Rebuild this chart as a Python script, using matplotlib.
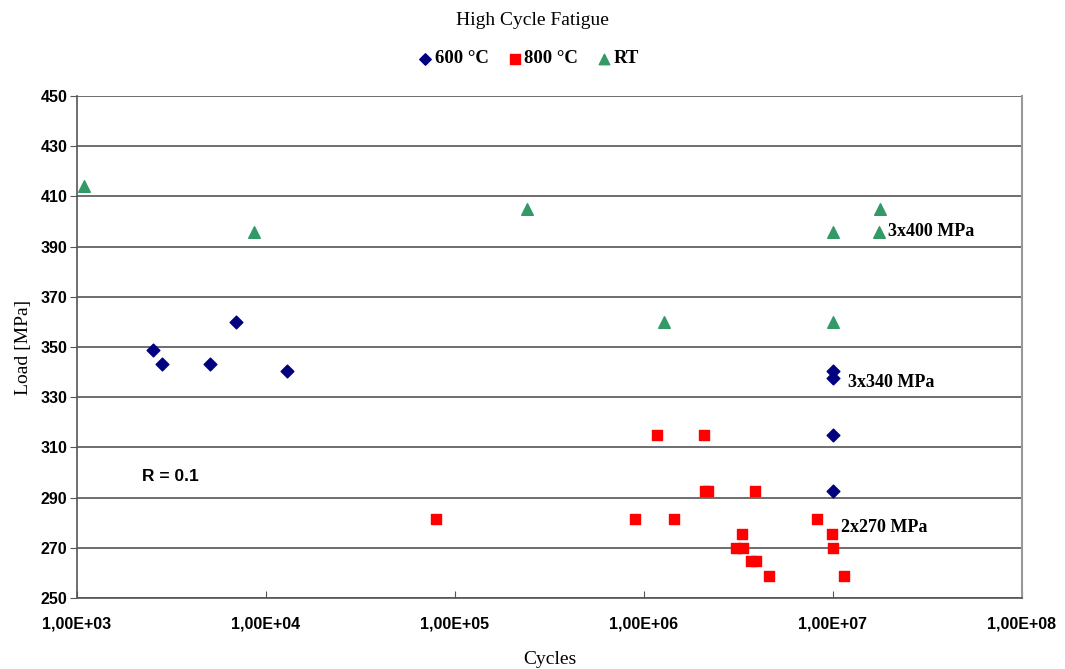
import numpy as np
import matplotlib.pyplot as plt
from matplotlib.ticker import FixedLocator, FuncFormatter

# 600 degC
c600 = [2520, 2820, 5060, 6930, 12900, 1.0e7, 1.0e7, 1.0e7, 1.0e7]
s600 = [348.8, 343.2, 343.2, 360, 340.4, 340.4, 337.6, 315, 292.5]

# 800 degC
c800 = [7.96e4, 8.99e5, 1.17e6, 1.44e6, 2.07e6, 2.11e6, 2.18e6, 3.88e6,
        3.30e6, 3.07e6, 3.35e6, 3.68e6, 3.91e6, 4.60e6,
        8.19e6, 9.84e6, 9.95e6, 1.15e7]
s800 = [281.4, 281.4, 315, 281.4, 315, 292.5, 292.5, 292.5,
        275.5, 270, 270, 264.6, 264.6, 258.8,
        281.4, 275.5, 270, 258.8]

# RT
crt = [1090, 8650, 2.4e5, 1.28e6, 1.0e7, 1.0e7, 1.77e7, 1.75e7]
srt = [414, 396, 405, 360, 396, 360, 405, 396]

notes = [("3x400 MPa", 1.95e7, 396), ("3x340 MPa", 1.2e7, 336),
         ("2x270 MPa", 1.1e7, 278)]

serif = ['Liberation Serif', 'DejaVu Serif']
sans = ['Liberation Sans', 'DejaVu Sans']

fig = plt.figure(figsize=(10.65, 6.69), dpi=100)
ax = fig.add_axes([0.0723, 0.1061, 0.8873, 0.7504])

ax.scatter(c600, s600, marker='D', s=42, color='#000080', label='600 °C', zorder=3)
ax.scatter(c800, s800, marker='s', s=62, color='#ff0000', label='800 °C', zorder=3)
ax.scatter(crt, srt, marker='^', s=70, color='#339966', label='RT', zorder=3)

ax.set_xscale('log')
ax.set_xlim(1e3, 1e8)
ax.set_ylim(250, 450)
ax.xaxis.set_major_locator(FixedLocator([1e3, 1e4, 1e5, 1e6, 1e7, 1e8]))
ax.xaxis.set_minor_locator(FixedLocator([]))
ax.xaxis.set_major_formatter(FuncFormatter(
    lambda v, p: '1,00E+%02d' % int(round(np.log10(v)))))
ax.set_yticks(np.arange(250, 451, 20))
ax.yaxis.grid(True, color='#555555', linewidth=1.2)
ax.set_axisbelow(True)

for s in ['left', 'bottom']:
    ax.spines[s].set_color('#555555')
    ax.spines[s].set_linewidth(1.2)
ax.spines['top'].set_visible(False)
ax.spines['right'].set_color('#999999')
ax.spines['right'].set_linewidth(1.5)

ax.tick_params(axis='y', direction='out', length=5, color='#555555', pad=2)
ax.tick_params(axis='x', direction='in', length=5, color='#555555', pad=13)
for lab in ax.get_xticklabels() + ax.get_yticklabels():
    lab.set_family(sans)
    lab.set_fontweight('bold')
    lab.set_fontsize(11.5)

ax.set_xlabel('Cycles', family=serif, fontsize=14, labelpad=14)
ax.set_ylabel('Load [MPa]', family=serif, fontsize=14, labelpad=6)

for txt, x, y in notes:
    ax.text(x, y, txt, family=serif, fontweight='bold', fontsize=13,
            va='center', ha='left')
ax.text(2.2e3, 298.6, 'R = 0.1', family=sans, fontweight='bold', fontsize=12.5,
        va='center')

fig.text(0.5, 0.970, 'High Cycle Fatigue', family=serif, fontsize=14,
         ha='center', va='center')
fig.legend(loc='center', bbox_to_anchor=(0.4962, 0.912), ncol=3, frameon=False,
           prop={'family': serif, 'weight': 'bold', 'size': 13.5},
           handlelength=0.8, handletextpad=0.1, columnspacing=1.0,
           markerscale=0.9)

fig.savefig('out.png', dpi=100)
